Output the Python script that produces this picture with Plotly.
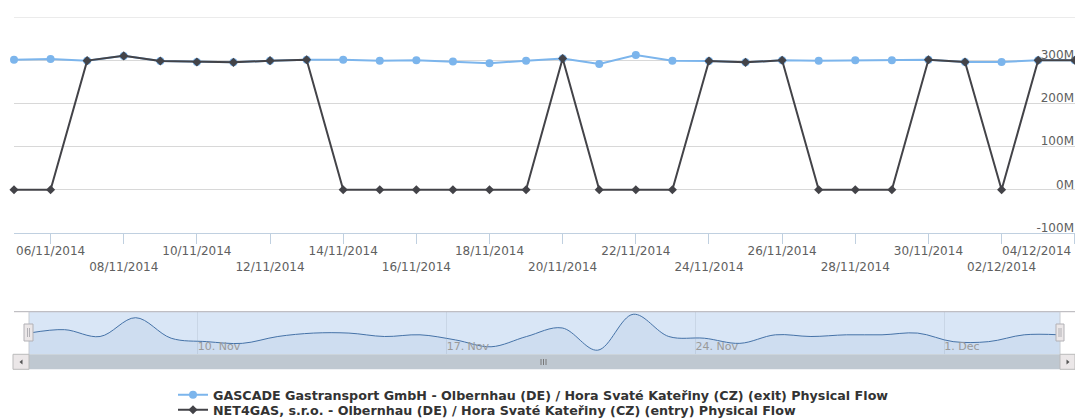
import plotly.graph_objects as go
import pandas as pd

# ---------------- data ----------------
dates = pd.date_range("2014-11-05 06:00", periods=30, freq="D")
gascade_exit = [301, 303, 299, 310, 298, 296, 295, 299, 301, 301,
                299, 300, 297, 293, 299, 304, 291, 312, 299, 298,
                295, 300, 299, 300, 300, 301, 296, 296, 300, 300]
net4gas_entry = [0, 0, 299, 310, 298, 296, 295, 299, 301, 0,
                 0, 0, 0, 0, 0, 304, 0, 0, 0, 298,
                 295, 300, 0, 0, 0, 301, 296, 0, 300, 300]
series_names = [
    "GASCADE Gastransport GmbH - Olbernhau (DE) / Hora Svaté Kateřiny (CZ) (exit) Physical Flow",
    "NET4GAS, s.r.o. - Olbernhau (DE) / Hora Svaté Kateřiny (CZ) (entry) Physical Flow",
]
y_tick_vals = [-100, 0, 100, 200, 300, 400]
y_tick_text = ["-100M", "0M", "100M", "200M", "300M", ""]
y_max = 400
nav_tick_vals = ["2014-11-10", "2014-11-17", "2014-11-24", "2014-12-01"]
nav_tick_text = ["10. Nov", "17. Nov", "24. Nov", "1. Dec"]

# x tick labels every two days, staggered on two rows
x_tick_vals = list(dates[1::2])
x_tick_text = []
for i, d in enumerate(x_tick_vals):
    s = d.strftime("%d/%m/%Y")
    if i == len(x_tick_vals) - 1:
        s = s + "\u00a0" * 20   # keep last label inside the chart, like the original
    x_tick_text.append(s if i % 2 == 0 else "<br>" + s)

x_range = [dates[0], dates[-1] + pd.Timedelta(minutes=10)]

# ---------------- geometry helpers (pixels -> paper) ----------------
W, H = 1075, 418
ML, MR, MT, MB = 14, 0, 17, 48
PW = W - ML - MR
PH = H - MT - MB
BOT = H - MB


def px(x):
    return (x - ML) / PW


def py(y):
    return (BOT - y) / PH


fig = go.Figure()

fig.add_trace(go.Scatter(
    x=dates, y=gascade_exit, name=series_names[0], mode="lines+markers",
    line=dict(color="#7cb5ec", width=2),
    marker=dict(symbol="circle", size=8, color="#7cb5ec"),
    cliponaxis=False, legend="legend",
))
fig.add_trace(go.Scatter(
    x=dates, y=net4gas_entry, name=series_names[1], mode="lines+markers",
    line=dict(color="#434348", width=2),
    marker=dict(symbol="diamond", size=7, color="#434348"),
    cliponaxis=False, legend="legend2",
))
# navigator series
fig.add_trace(go.Scatter(
    x=dates, y=gascade_exit, mode="lines", xaxis="x2", yaxis="y2",
    line=dict(color="#4572A7", width=1, shape="spline", smoothing=1),
    fill="tozeroy", fillcolor="rgba(69,114,167,0.07)",
    showlegend=False, hoverinfo="skip",
))

shapes = []
# top grid line of the main plot
shapes.append(dict(type="line", xref="paper", yref="y", layer="below",
                   x0=0, x1=1, y0=y_max, y1=y_max,
                   line=dict(color="#d8d8d8", width=1)))
# navigator selected region
shapes.append(dict(type="rect", xref="paper", yref="paper", layer="below",
                   x0=px(29), x1=px(1060), y0=py(354.3), y1=py(311.7),
                   fillcolor="rgb(217,230,246)", line=dict(width=0)))
# navigator outline
shapes.append(dict(type="line", xref="paper", yref="paper",
                   x0=px(14), x1=px(1075), y0=py(311.7), y1=py(311.7),
                   line=dict(color="#b2b1b6", width=1)))
for xe in (29, 1060):
    shapes.append(dict(type="line", xref="paper", yref="paper",
                       x0=px(xe), x1=px(xe), y0=py(311.7), y1=py(354.3),
                       line=dict(color="#c8ccd2", width=1)))
# scrollbar
shapes.append(dict(type="rect", xref="paper", yref="paper",
                   x0=px(29), x1=px(1060), y0=py(369.3), y1=py(354.3),
                   fillcolor="#bfc8d1", line=dict(width=0)))
for x0, x1 in ((13, 29), (1060, 1075)):
    shapes.append(dict(type="rect", xref="paper", yref="paper",
                       x0=px(x0), x1=px(x1), y0=py(369.3), y1=py(354.3),
                       fillcolor="#ebe7e8", line=dict(color="#bbbbbb", width=1)))
# arrows
shapes.append(dict(type="path", xref="paper", yref="paper",
                   path=f"M {px(19.5)} {py(362)} L {px(22.5)} {py(359.5)} L {px(22.5)} {py(364.5)} Z",
                   fillcolor="#555", line=dict(width=0)))
shapes.append(dict(type="path", xref="paper", yref="paper",
                   path=f"M {px(1069.5)} {py(362)} L {px(1066.5)} {py(359.5)} L {px(1066.5)} {py(364.5)} Z",
                   fillcolor="#555", line=dict(width=0)))
for gx in (541, 543.5, 546):
    shapes.append(dict(type="line", xref="paper", yref="paper",
                       x0=px(gx), x1=px(gx), y0=py(359), y1=py(365),
                       line=dict(color="#777", width=1)))
# handles
for x0, x1 in ((24, 33), (1056, 1064)):
    shapes.append(dict(type="rect", xref="paper", yref="paper",
                       x0=px(x0), x1=px(x1), y0=py(341), y1=py(324),
                       fillcolor="#ebe7e8", line=dict(color="#b2b1b6", width=1)))
    cx = (x0 + x1) / 2
    for gx in (cx - 1, cx + 1):
        shapes.append(dict(type="line", xref="paper", yref="paper",
                           x0=px(gx), x1=px(gx), y0=py(328), y1=py(337),
                           line=dict(color="#b2b1b6", width=1)))

legend_font = dict(family="DejaVu Sans", size=12.7, color="#333333", weight="bold")

fig.update_layout(
    width=W, height=H,
    margin=dict(l=ML, r=MR, t=MT, b=MB, pad=0, autoexpand=False),
    paper_bgcolor="white", plot_bgcolor="white",
    font=dict(family="DejaVu Sans", size=12, color="#606060"),
    showlegend=True,
    legend=dict(
        orientation="v", x=px(173), xanchor="left", y=py(395), yanchor="middle",
        font=legend_font, bgcolor="rgba(0,0,0,0)",
    ),
    legend2=dict(
        orientation="v", x=px(173), xanchor="left", y=py(410), yanchor="middle",
        font=legend_font, bgcolor="rgba(0,0,0,0)",
    ),
    xaxis=dict(
        type="date", domain=[0, 1], anchor="y", automargin=False,
        range=x_range,
        tickmode="array", tickvals=x_tick_vals, ticktext=x_tick_text,
        tickangle=0,
        ticks="outside", ticklen=10, tickcolor="#C0D0E0",
        ticklabeloverflow="allow", ticklabelstandoff=-3,
        showline=True, linecolor="#C0D0E0", linewidth=1,
        showgrid=False, zeroline=False,
        tickfont=dict(size=12, color="#606060"),
    ),
    yaxis=dict(
        domain=[py(233), 1], anchor="x", side="right", automargin=False,
        range=[-100, y_max],
        tickmode="array", tickvals=y_tick_vals, ticktext=y_tick_text,
        ticklabelposition="inside top", ticks="", ticklen=0,
        ticklabelshift=3, ticklabelstandoff=-2, ticklabeloverflow="allow",
        showgrid=True, gridcolor="#d8d8d8", gridwidth=1,
        zeroline=False, showline=False,
        tickfont=dict(size=12, color="#606060"),
    ),
    xaxis2=dict(
        type="date", domain=[px(29), px(1060)], anchor="y2", automargin=False,
        range=x_range,
        tickmode="array", tickvals=nav_tick_vals, ticktext=nav_tick_text,
        tickangle=0,
        ticklabelposition="inside right", ticks="", ticklen=0,
        ticklabelstandoff=-4,
        showgrid=True, gridcolor="#c9d6e6", gridwidth=1,
        showline=False, zeroline=False,
        tickfont=dict(size=11, color="#9a9a9a"),
    ),
    yaxis2=dict(
        domain=[py(354.3), py(311.7)], anchor="x2",
        range=[288.6, 313.5], visible=False,
    ),
    shapes=shapes,
    hovermode=False,
)

fig.write_html(
    "out.html",
    config={"displayModeBar": False},
    post_script="document.body.style.margin='0px';document.body.style.overflow='hidden';",
)
